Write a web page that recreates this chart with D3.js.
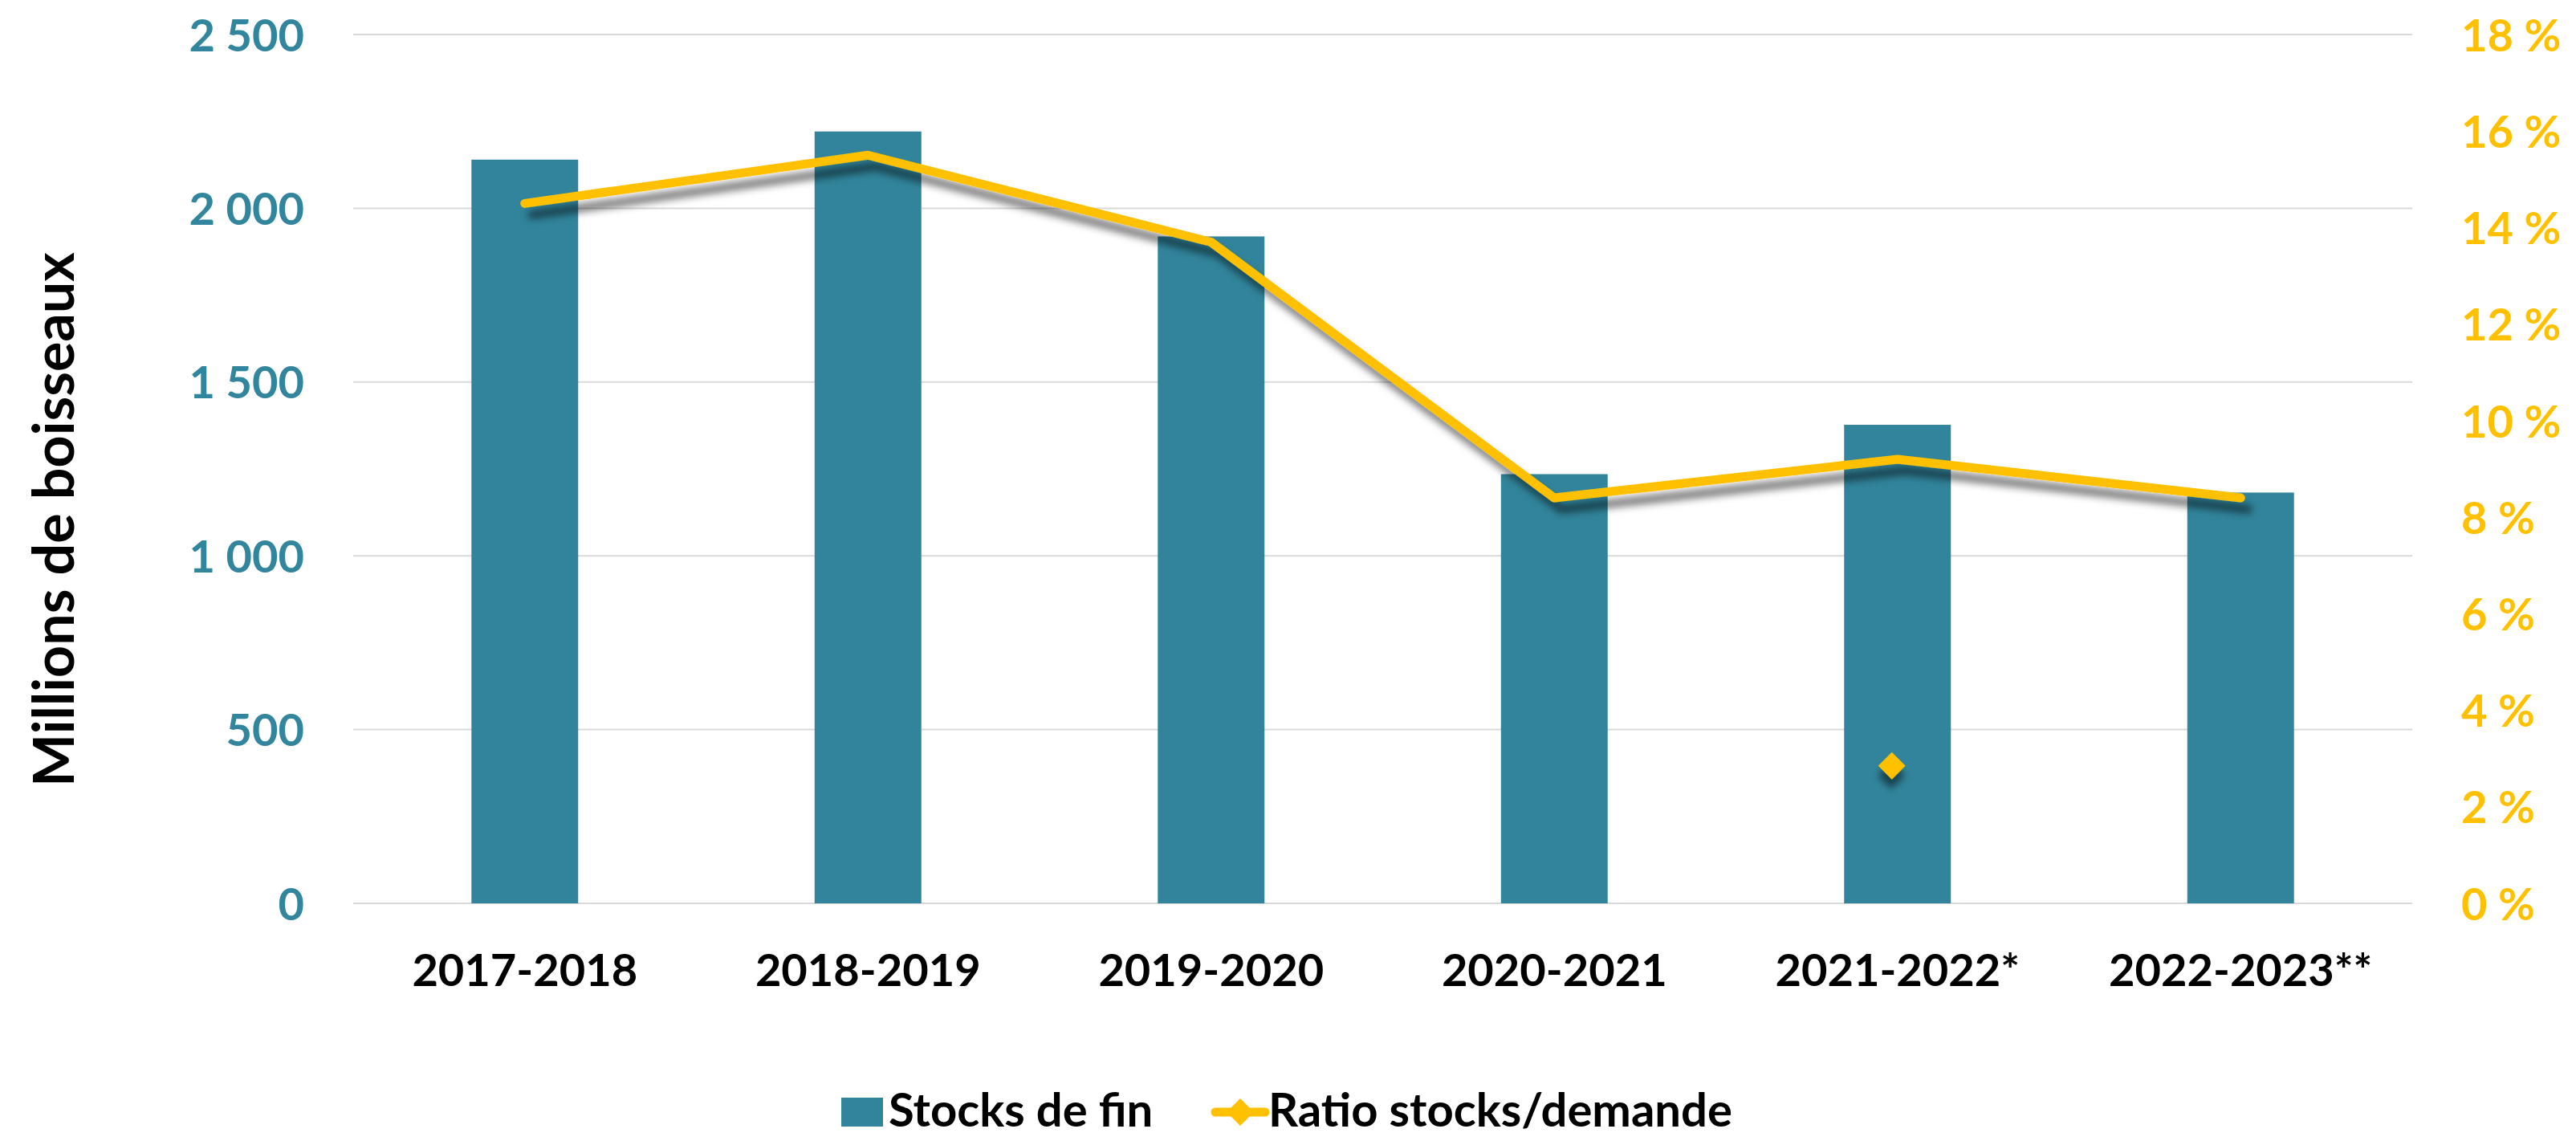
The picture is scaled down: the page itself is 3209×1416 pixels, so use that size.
<!DOCTYPE html>
<html>
<head>
<meta charset="utf-8">
<script src="https://cdn.jsdelivr.net/npm/d3@7"></script>
<style>
  body { margin: 0; background: #fff; }
  text { font-family: Lato, "Open Sans", sans-serif; font-weight: bold; }
</style>
</head>
<body>
<svg id="chart" width="3209" height="1416"></svg>
<script>
// data
var categories = ["2017-2018", "2018-2019", "2019-2020", "2020-2021", "2021-2022*", "2022-2023**"];
var stocks = [2140, 2221, 1919, 1235, 1377, 1182];          // millions de boisseaux
var ratio = [14.5, 15.5, 13.7, 8.4, 9.2, 8.4];               // %
var strayMarker = [{ cat: "2021-2022*", value: 2.85 }];      // lone diamond
var leftTicks = [0, 500, 1000, 1500, 2000, 2500];
var rightTicks = [0, 2, 4, 6, 8, 10, 12, 14, 16, 18];

var teal = "#31849B",
    gold = "#FFC000";

var svg = d3.select("#chart"),
    margin = { top: 43, right: 204, bottom: 291, left: 440 },
    width = +svg.attr("width") - margin.left - margin.right,
    height = +svg.attr("height") - margin.top - margin.bottom;

var fr = d3.formatLocale({ decimal: ",", thousands: " ", grouping: [3], currency: ["", ""] });

var defs = svg.append("defs");
defs.append("filter").attr("id", "lineShadow")
    .attr("x", "-10%").attr("y", "-30%").attr("width", "130%").attr("height", "160%")
  .append("feDropShadow")
    .attr("dx", 9).attr("dy", 14).attr("stdDeviation", 5)
    .attr("flood-color", "#000").attr("flood-opacity", 0.5);
defs.append("filter").attr("id", "dotShadow")
    .attr("x", "-50%").attr("y", "-50%").attr("width", "250%").attr("height", "250%")
  .append("feDropShadow")
    .attr("dx", 8).attr("dy", 9).attr("stdDeviation", 4)
    .attr("flood-color", "#000").attr("flood-opacity", 0.5);

var g = svg.append("g").attr("transform", "translate(" + margin.left + "," + margin.top + ")");

var x = d3.scaleBand().domain(categories).range([0, width]).paddingInner(0.689).paddingOuter(0.3445);
var yL = d3.scaleLinear().domain([0, 2500]).range([height, 0]);
var yR = d3.scaleLinear().domain([0, 18]).range([height, 0]);

// gridlines
g.append("g")
    .selectAll("line")
    .data(leftTicks)
    .enter().append("line")
    .attr("x1", 0).attr("x2", width)
    .attr("y1", function (d) { return yL(d); })
    .attr("y2", function (d) { return yL(d); })
    .attr("stroke", "#D9D9D9")
    .attr("stroke-width", 2);

// left axis
var axL = g.append("g")
    .call(d3.axisLeft(yL).tickValues(leftTicks).tickSize(0).tickPadding(61).tickFormat(fr.format(",d")));
axL.select(".domain").remove();
axL.selectAll("text")
    .attr("fill", "#31859C")
    .style("font-size", "56px")
    .attr("dy", "0.36em");

// right axis
var axR = g.append("g")
    .attr("transform", "translate(" + width + ",0)")
    .call(d3.axisRight(yR).tickValues(rightTicks).tickSize(0).tickPadding(61).tickFormat(function (d) { return d + " %"; }));
axR.select(".domain").remove();
axR.selectAll("text")
    .attr("fill", gold)
    .style("font-size", "56px")
    .attr("dy", "0.36em");

// bottom axis
var axB = g.append("g")
    .attr("transform", "translate(0," + height + ")")
    .call(d3.axisBottom(x).tickSize(0).tickPadding(63));
axB.select(".domain").remove();
axB.selectAll("text")
    .attr("fill", "#000")
    .style("font-size", "56px")
    .attr("dy", "0.71em");

// bars
g.append("g")
    .selectAll("rect")
    .data(stocks)
    .enter().append("rect")
    .attr("x", function (d, i) { return x(categories[i]); })
    .attr("y", function (d) { return yL(d); })
    .attr("width", x.bandwidth())
    .attr("height", function (d) { return height - yL(d); })
    .attr("fill", teal);

// ratio line
var line = d3.line()
    .x(function (d, i) { return x(categories[i]) + x.bandwidth() / 2; })
    .y(function (d) { return yR(d); });

g.append("path")
    .datum(ratio)
    .attr("d", line)
    .attr("fill", "none")
    .attr("stroke", gold)
    .attr("stroke-width", 11)
    .attr("stroke-linecap", "round")
    .attr("stroke-linejoin", "round")
    .attr("filter", "url(#lineShadow)");

// lone diamond marker
var diamond = d3.symbol().type(d3.symbolSquare).size(2 * 17 * 17);
g.append("g")
    .selectAll("path")
    .data(strayMarker)
    .enter().append("path")
    .attr("d", diamond)
    .attr("transform", function (d) {
        return "translate(" + (x(d.cat) + x.bandwidth() / 2 - 7) + "," + yR(d.value) + ") rotate(45)";
    })
    .attr("fill", gold)
    .attr("filter", "url(#dotShadow)");

// y axis title
svg.append("text")
    .attr("transform", "translate(92,647) rotate(-90)")
    .attr("text-anchor", "middle")
    .style("font-size", "70px")
    .attr("fill", "#000")
    .text("Millions de boisseaux");

// legend
var legend = svg.append("g");
legend.append("rect")
    .attr("x", 1048).attr("y", 1367).attr("width", 52).attr("height", 36)
    .attr("fill", teal);
legend.append("text")
    .attr("x", 1107).attr("y", 1403)
    .style("font-size", "58px")
    .text("Stocks de fin");
legend.append("line")
    .attr("x1", 1514).attr("x2", 1576).attr("y1", 1385).attr("y2", 1385)
    .attr("stroke", gold).attr("stroke-width", 11).attr("stroke-linecap", "round");
legend.append("path")
    .attr("d", diamond)
    .attr("transform", "translate(1545,1385) rotate(45)")
    .attr("fill", gold);
legend.append("text")
    .attr("x", 1580).attr("y", 1403)
    .style("font-size", "58px")
    .text("Ratio stocks/demande");
</script>
</body>
</html>
